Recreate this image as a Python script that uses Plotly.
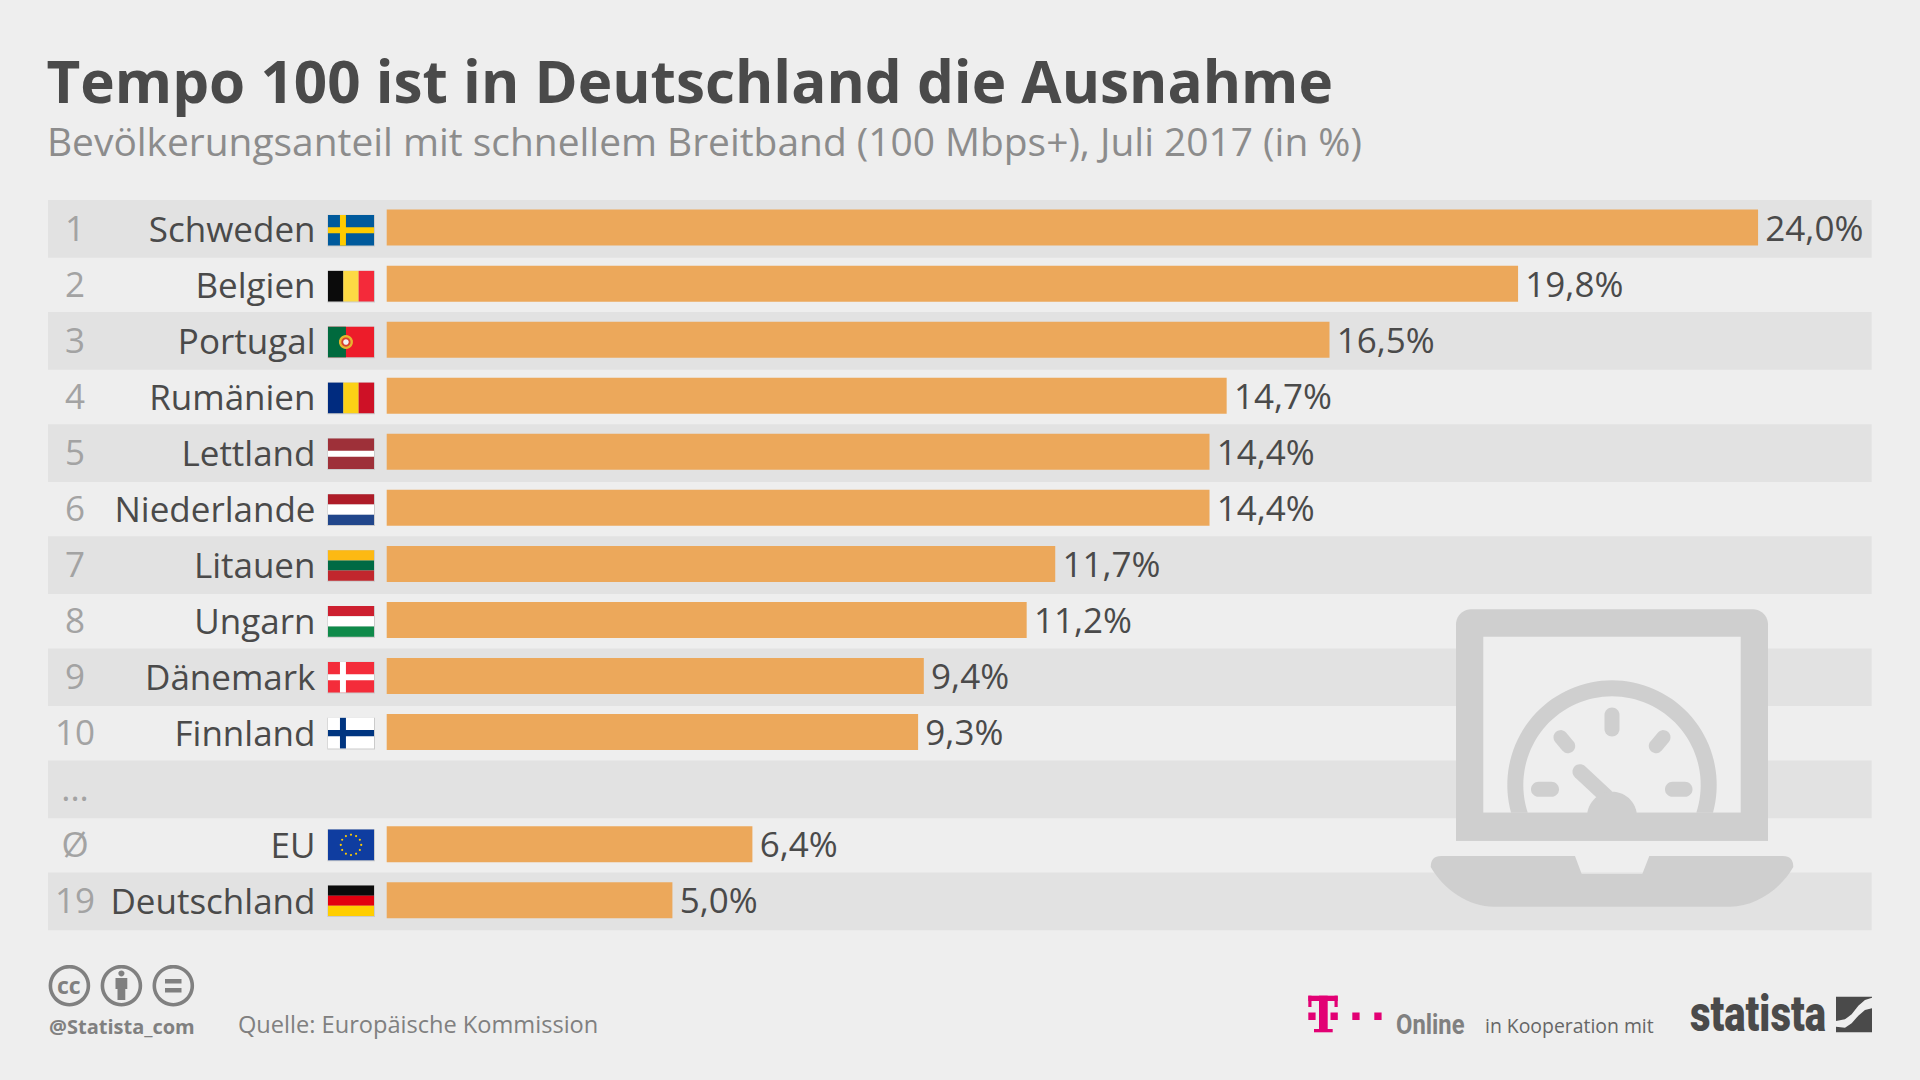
import math
import plotly.graph_objects as go

# ---------- data ----------
ranks = ["1", "2", "3", "4", "5", "6", "7", "8", "9", "10", "...", "Ø", "19"]
countries = ["Schweden", "Belgien", "Portugal", "Rumänien", "Lettland", "Niederlande", "Litauen",
             "Ungarn", "Dänemark", "Finnland", "", "EU", "Deutschland"]
values = [24.0, 19.8, 16.5, 14.7, 14.4, 14.4, 11.7, 11.2, 9.4, 9.3, None, 6.4, 5.0]
title_text = "Tempo 100 ist in Deutschland die Ausnahme"
subtitle_text = "Bevölkerungsanteil mit schnellem Breitband (100 Mbps+), Juli 2017 (in %)"
source_text = "Quelle: Europäische Kommission"

# ---------- styles ----------
W, H = 1920, 1080
BG, BAND, BAR, ICON = "#eeeeee", "#e2e2e2", "#eca85b", "#cfcfcf"
DARK, MID, RANK = "#4a4a4a", "#808080", "#a3a3a3"
FONT = "Open Sans"
BAR0_PX, PX_PER_UNIT = 386.7, 57.14
ROW0_PX, ROW_PX = 227.6, 56.05
LABEL_SHIFT = 2.0
TEXT_SHIFT = 4.4
LABEL_SIZE = 35

rows = list(range(len(countries)))
X_RANGE = [-BAR0_PX / PX_PER_UNIT, (W - BAR0_PX) / PX_PER_UNIT]

def y_range(shift):
    return [(H - ROW0_PX - shift) / ROW_PX, -(ROW0_PX + shift) / ROW_PX]

def px(x):
    return x / W

def py(y):
    return 1 - y / H

shapes = []

def rect(x0, y0, x1, y1, color, layer="above"):
    shapes.append(dict(type="rect", xref="paper", yref="paper", x0=px(x0), x1=px(x1), y0=py(y0), y1=py(y1),
                       fillcolor=color, line_width=0, layer=layer))

def poly(points, color):
    d = "M " + " L ".join(f"{px(a):.5f},{py(b):.5f}" for a, b in points) + " Z"
    shapes.append(dict(type="path", xref="paper", yref="paper", path=d, fillcolor=color, line_width=0))

def circle_pts(cx, cy, r, a0=0, a1=360, n=72):
    return [(cx + r * math.cos(math.radians(a0 + (a1 - a0) * k / n)),
             cy + r * math.sin(math.radians(a0 + (a1 - a0) * k / n))) for k in range(n + 1)]

def capsule(x0, y0, x1, y1, r, color):
    ang = math.degrees(math.atan2(y1 - y0, x1 - x0))
    poly(circle_pts(x0, y0, r, ang + 90, ang + 270, 16) + circle_pts(x1, y1, r, ang - 90, ang + 90, 16), color)

# row bands
for r in rows[::2]:
    c = r * ROW_PX + 200
    rect(48, c, 1871.7, c + 57.7, BAND, layer="below")

# flags: (kind, colours)
flag_specs = [
    ("nordic", "#005a9c", "#fecb00"), ("v", "#0b0b0b", "#fdda44", "#f42a3a"), ("pt", "#006a3e", "#ed1c2a"),
    ("v", "#002b7f", "#fcd116", "#ce1126"), ("lv", "#9e3039", "#ffffff"), ("h", "#ae1c28", "#ffffff", "#21468b"),
    ("h", "#fdb913", "#006a44", "#c1272d"), ("h", "#cd1f2f", "#ffffff", "#0f8a4a"), ("nordic", "#f42c3a", "#ffffff"),
    ("nordic", "#ffffff", "#003580"), None, ("eu", "#0f3da0", "#ffcc00"), ("h", "#0b0b0b", "#e3000f", "#ffce00"),
]
FX0, FX1, FH = 328, 374, 30.6
for r, spec in zip(rows, flag_specs):
    if spec is None:
        continue
    t = 230.3 + r * 55.87 - FH / 2
    b = t + FH
    w = FX1 - FX0
    rect(FX0 - 0.6, t - 0.2, FX1 + 1, b + 1, "#cbcbcb")
    kind = spec[0]
    if kind == "v":
        for k in range(3):
            rect(FX0 + w * k / 3, t, FX0 + w * (k + 1) / 3, b, spec[k + 1])
    elif kind == "h":
        for k in range(3):
            rect(FX0, t + FH * k / 3, FX1, t + FH * (k + 1) / 3, spec[k + 1])
    elif kind == "nordic":
        rect(FX0, t, FX1, b, spec[1])
        rect(FX0 + w * .26, t, FX0 + w * .39, b, spec[2])
        rect(FX0, t + FH * .4, FX1, t + FH * .6, spec[2])
    elif kind == "lv":
        rect(FX0, t, FX1, b, spec[1])
        rect(FX0, t + FH * .4, FX1, t + FH * .6, spec[2])
    elif kind == "pt":
        rect(FX0, t, FX1, b, spec[2])
        rect(FX0, t, FX0 + w * .39, b, spec[1])
        cx, cy = FX0 + w * .39, (t + b) / 2
        poly(circle_pts(cx, cy, 7, n=24), "#e8b52f")
        poly(circle_pts(cx, cy, 4.6, n=24), "#d8402f")
        poly(circle_pts(cx, cy, 2.8, n=16), "#f2f2f2")
    elif kind == "eu":
        rect(FX0, t, FX1, b, spec[1])
        cx, cy = (FX0 + FX1) / 2, (t + b) / 2
        for k in range(12):
            a = math.radians(30 * k)
            poly(circle_pts(cx + 10.2 * math.cos(a), cy + 10.2 * math.sin(a), 1.1, n=8), spec[2])

# laptop icon
r0 = 15
poly(circle_pts(1456 + r0, 609.3 + r0, r0, 180, 270, 10) + circle_pts(1768 - r0, 609.3 + r0, r0, 270, 360, 10)
     + [(1768, 840.7), (1456, 840.7)], ICON)
rect(1483.3, 636.7, 1740.7, 812.7, BG)
GX, GY, RO, RI = 1612, 785, 104.7, 88.7
aO, aI = math.degrees(math.asin(27.7 / RO)), math.degrees(math.asin(27.7 / RI))
poly(circle_pts(GX, GY, RO, 180 - aO, 360 + aO) + circle_pts(GX, GY, RI, 360 + aI, 180 - aI), ICON)
capsule(GX, 715, GX, 729, 7.5, ICON)
capsule(1560.7, 737.3, 1568, 746, 7.2, ICON)
capsule(1663.3, 737.3, 1656, 746, 7.2, ICON)
capsule(1538.5, 789.3, 1551.5, 789.3, 7.5, ICON)
capsule(1672.5, 789.3, 1685, 789.3, 7.5, ICON)
capsule(1580, 771.7, 1606, 796, 7.5, ICON)
poly(circle_pts(GX, 816.7, 25, 180, 360, 30), ICON)
rect(1456, 812.7, 1768, 840.7, ICON)
shapes.append(dict(type="path", xref="paper", yref="paper", fillcolor=ICON, line_width=0, path=(
    "M " + " L ".join(f"{px(a):.5f},{py(b):.5f}" for a, b in [(1441, 856), (1575, 856), (1581.7, 874), (1642.3, 874),
                                                                (1649.3, 856), (1783, 856)])
    + f" Q {px(1793.3):.5f},{py(856):.5f} {px(1793.3):.5f},{py(867):.5f}"
    + f" C {px(1780):.5f},{py(890):.5f} {px(1755):.5f},{py(906.7):.5f} {px(1730):.5f},{py(906.7):.5f}"
    + f" L {px(1494):.5f},{py(906.7):.5f}"
    + f" C {px(1469):.5f},{py(906.7):.5f} {px(1444):.5f},{py(890):.5f} {px(1430.7):.5f},{py(867):.5f}"
    + f" Q {px(1430.7):.5f},{py(856):.5f} {px(1441):.5f},{py(856):.5f} Z")))

# creative-commons icons
for cx in (69.4, 121.4, 173.3):
    poly(circle_pts(cx, 985.7, 20.8, n=48) + circle_pts(cx, 985.7, 17.2, 360, 0, 48), MID)
poly(circle_pts(121.4, 973.5, 3, n=16), MID)
rect(115.5, 978, 127.3, 989, MID)
rect(117.5, 989, 125.3, 1000, MID)
rect(165, 979, 181.5, 983.5, MID)
rect(165, 988, 181.5, 992.5, MID)

# T-Online mark
MAG = "#e20074"
rect(1308.3, 995.7, 1337.7, 1001, MAG)
rect(1308.3, 995.7, 1311.5, 1007, MAG)
rect(1334.5, 995.7, 1337.7, 1007, MAG)
rect(1319, 995.7, 1327.7, 1032, MAG)
rect(1314, 1029, 1332.7, 1032.3, MAG)
for xd in (1308.3, 1330.5, 1352.3, 1374.3):
    rect(xd, 1012.5, xd + 7.3, 1020, MAG)

# statista mark
rect(1836, 996.7, 1872, 1032.3, DARK)
swoosh_upper = [(468, 108), (495, 103), (515, 88), (535, 62), (555, 45), (576, 38)]
swoosh_lower = [(576, 70), (555, 75), (535, 92), (515, 115), (495, 128), (468, 125)]
poly([(1680 + a / 3, 985 + b / 3) for a, b in swoosh_upper + swoosh_lower], BG)

def text(x, y, s, size, color, anchor="left", weight=400, family=FONT):
    return dict(xref="paper", yref="paper", x=px(x), y=py(y), text=s, showarrow=False, xanchor=anchor, yanchor="middle",
                font=dict(family=family, size=size, color=color, weight=weight))

annotations = [
    text(45, 141, subtitle_text, 38.9, "#8c8c8c"),
    text(47, 1026, "@Statista_com", 20, MID, weight=700),
    text(235.5, 1024, source_text, 23.6, MID),
    text(1482.5, 1025, "in Kooperation mit", 19.4, "#666666"),
    text(1394, 1025, "Online", 27, MID, weight=700, family="Roboto"),
    text(1688, 1014, "statista", 50, DARK, weight=900, family="Roboto"),
    text(69.4, 984.5, "cc", 23, MID, anchor="center", weight=700),
]

bars = go.Bar(x=values, y=rows, orientation="h", width=36 / ROW_PX, marker=dict(color=BAR, line_width=0),
              hoverinfo="skip", yaxis="y")
value_labels = go.Scatter(x=values, y=rows, yaxis="y3", mode="markers+text", texttemplate="%{x:.1f}%",
                          textposition="middle right", marker=dict(size=10, opacity=0), cliponaxis=False,
                          textfont=dict(family=FONT, size=LABEL_SIZE, color=DARK), hoverinfo="skip")
rank_labels = go.Scatter(x=[(75 - BAR0_PX) / PX_PER_UNIT] * len(rows), y=rows, yaxis="y3", mode="text", text=ranks,
                         textposition="middle center", cliponaxis=False,
                         textfont=dict(family=FONT, size=LABEL_SIZE, color=RANK), hoverinfo="skip")
name_anchor = go.Scatter(x=[None], y=[None], yaxis="y2", mode="markers", hoverinfo="skip")

fig = go.Figure([bars, value_labels, rank_labels, name_anchor])
fig.update_layout(
    width=W, height=H, margin=dict(l=0, r=0, t=0, b=0), paper_bgcolor=BG, plot_bgcolor="rgba(0,0,0,0)",
    separators=",.", showlegend=False, shapes=shapes, annotations=annotations,
    title=dict(text=title_text, x=px(46.5), y=py(83), xanchor="left", yanchor="middle", xref="paper", yref="paper",
               font=dict(family=FONT, size=58.4, color=DARK, weight=700)),
    xaxis=dict(range=X_RANGE, visible=False, fixedrange=True),
    yaxis=dict(range=y_range(0), visible=False, fixedrange=True),
    yaxis2=dict(range=y_range(LABEL_SHIFT), overlaying="y", anchor="free", position=px(315.5), side="left",
                tickmode="array", tickvals=rows, ticktext=countries, showgrid=False, zeroline=False, showline=False,
                ticks="", fixedrange=True, tickfont=dict(family=FONT, size=LABEL_SIZE, color=DARK)),
    yaxis3=dict(range=y_range(TEXT_SHIFT), overlaying="y", visible=False, fixedrange=True),
)
POST = """
document.body.style.margin='0';document.body.style.overflow='hidden';
document.querySelectorAll('.annotation-text').forEach(function(t){
  var targets={'statista':136,'Online':68.5};
  var w=targets[t.textContent]; if(!w){return;}
  var b=t.getBBox();
  t.setAttribute('transform','translate('+b.x+',0) scale('+(w/b.width)+',1) translate('+(-b.x)+',0)');
});
"""
fig.write_html("out.html", config=dict(displayModeBar=False), post_script=POST)
